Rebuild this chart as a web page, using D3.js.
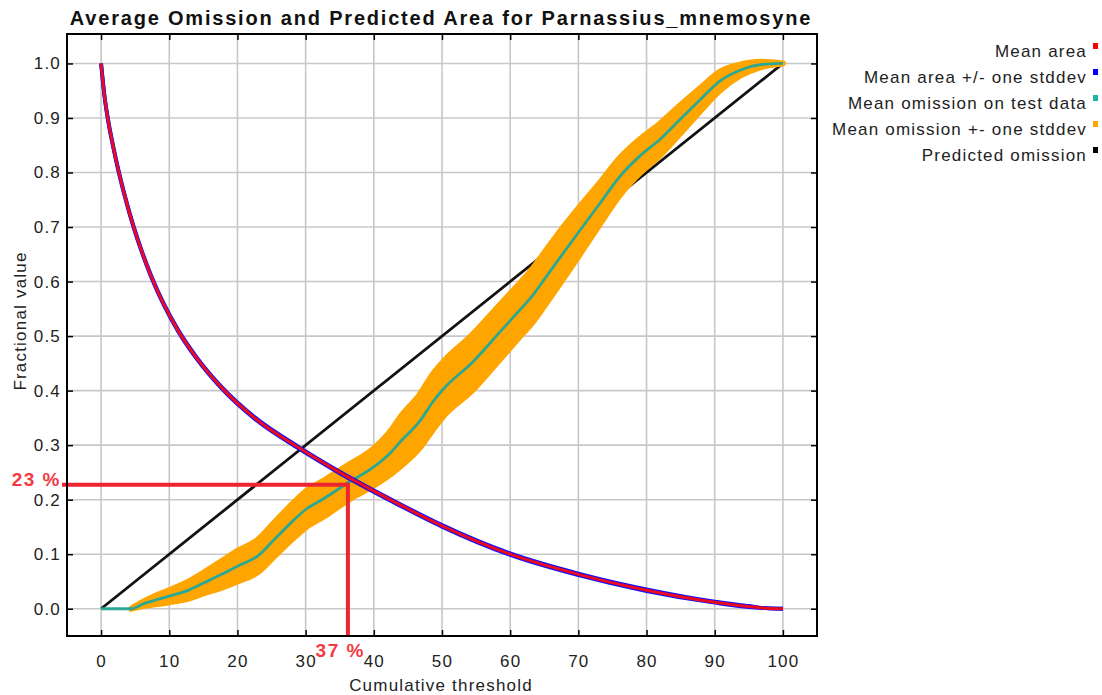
<!DOCTYPE html>
<html>
<head>
<meta charset="utf-8">
<script src="https://cdn.jsdelivr.net/npm/d3@7"></script>
<style>
body { margin: 0; background: #fff; }
text { font-family: "Liberation Sans", Arial, sans-serif; }
</style>
</head>
<body>
<div id="chart-area"></div>
<script>
const FIGURE = { WIDTH: 1102, HEIGHT: 695 };
const PLOT = { LEFT: 67, RIGHT: 817, TOP: 34, BOTTOM: 636 };

const chartTitle = "Average Omission and Predicted Area for Parnassius_mnemosyne";
const xLabel = "Cumulative threshold";
const yLabel = "Fractional value";
const xTicks = [0, 10, 20, 30, 40, 50, 60, 70, 80, 90, 100];
const yTicks = [0, 0.1, 0.2, 0.3, 0.4, 0.5, 0.6, 0.7, 0.8, 0.9, 1.0];

// mean predicted area (red) and its stddev (blue)
const areaThresholds = [0, 0.5, 1, 1.7, 2.5, 3.5, 4.7, 6, 7.4, 9.2, 11.3, 14, 17.7, 22.5, 28.9, 35, 42.4, 50, 60, 70, 80, 90, 95, 97.5, 100];
const areaMean =       [1.0, 0.94, 0.898, 0.852, 0.806, 0.756, 0.703, 0.654, 0.608, 0.558, 0.51, 0.46, 0.405, 0.35, 0.296, 0.25, 0.2, 0.152, 0.1, 0.063, 0.034, 0.012, 0.004, 0.001, 0];
const areaStd =        [0, 0.001, 0.0015, 0.0015, 0.0015, 0.0015, 0.0015, 0.0015, 0.0015, 0.0015, 0.0015, 0.0015, 0.0015, 0.0015, 0.0015, 0.0015, 0.0015, 0.0015, 0.0015, 0.0015, 0.0015, 0.001, 0.001, 0, 0];

// mean omission on test data (teal) and its stddev (orange)
const omissionThresholds = [0, 4.4, 6.2, 8, 10, 13, 15, 18, 20, 23, 25.4, 27.8, 30, 32.8, 36.2, 40, 42.6, 43.8, 46.8, 48.7, 50.2, 54.4, 58.6, 61.5, 63, 65, 66.9, 70, 73.2, 76.1, 79, 82, 84.9, 87.9, 90.8, 93.8, 96.7, 100];
const omissionMean =       [0, 0, 0.009, 0.016, 0.023, 0.035, 0.047, 0.065, 0.078, 0.097, 0.127, 0.157, 0.182, 0.203, 0.231, 0.26, 0.288, 0.305, 0.345, 0.38, 0.403, 0.451, 0.509, 0.549, 0.57, 0.604, 0.637, 0.69, 0.744, 0.793, 0.83, 0.861, 0.897, 0.934, 0.968, 0.988, 0.998, 1.0];
const omissionStd =        [0, 0, 0.004, 0.008, 0.011, 0.016, 0.019, 0.025, 0.028, 0.03, 0.031, 0.032, 0.033, 0.033, 0.032, 0.034, 0.04, 0.045, 0.049, 0.051, 0.05, 0.051, 0.05, 0.049, 0.049, 0.049, 0.048, 0.044, 0.038, 0.034, 0.031, 0.029, 0.026, 0.021, 0.017, 0.01, 0.005, 0];

// predicted omission (black)
const predictedThresholds = [0, 100];
const predictedOmission = [0, 1];

// marked threshold
const cutThreshold = 36.2;
const cutValue = 0.2275;
const cutXLabel = "37 %";
const cutYLabel = "23 %";

const legendNames = ["Mean area", "Mean area +/- one stddev", "Mean omission on test data", "Mean omission +- one stddev", "Predicted omission"];
const legendColors = ["#ff0000", "#0000ff", "#1fb2a8", "#ffa500", "#000000"];

let x = d3.scaleLinear().domain([-5, 105]).range([PLOT.LEFT, PLOT.RIGHT]);
let y = d3.scaleLinear().domain([-0.05, 1.054]).range([PLOT.BOTTOM, PLOT.TOP]);

let svg = d3.select("#chart-area")
    .append("svg")
        .attr("width", FIGURE.WIDTH)
        .attr("height", FIGURE.HEIGHT)
        .style("display", "block");

svg.append("rect")
    .attr("width", FIGURE.WIDTH)
    .attr("height", FIGURE.HEIGHT)
    .attr("fill", "#fff");

// grid
let grid = svg.append("g").attr("stroke", "#c8c8c8").attr("stroke-width", 1.6);
grid.selectAll(".gx").data(xTicks).enter().append("line")
    .attr("x1", d => x(d)).attr("x2", d => x(d))
    .attr("y1", PLOT.TOP).attr("y2", PLOT.BOTTOM);
grid.selectAll(".gy").data(yTicks).enter().append("line")
    .attr("x1", PLOT.LEFT).attr("x2", PLOT.RIGHT)
    .attr("y1", d => y(d)).attr("y2", d => y(d));

// predicted omission
const predicted = predictedThresholds.map((t, i) => ({ t: t, v: predictedOmission[i] }));
svg.append("path")
    .datum(predicted)
    .attr("d", d3.line().x(d => x(d.t)).y(d => y(d.v)))
    .attr("fill", "none")
    .attr("stroke", "#111")
    .attr("stroke-width", 2.8);

// omission band + mean
const omission = omissionThresholds.map((t, i) => ({ t: t, v: omissionMean[i], sd: omissionStd[i] }));
svg.append("path")
    .datum(omission)
    .attr("d", d3.area()
        .defined(d => d.t >= 4.4)
        .curve(d3.curveMonotoneX)
        .x(d => x(d.t)).y0(d => y(d.v - d.sd)).y1(d => y(d.v + d.sd)))
    .attr("fill", "#ffa500")
    .attr("stroke", "#ffa500")
    .attr("stroke-width", 6)
    .attr("stroke-linejoin", "round");
svg.append("path")
    .datum(omission)
    .attr("d", d3.line().curve(d3.curveMonotoneX).x(d => x(d.t)).y(d => y(d.v)))
    .attr("fill", "none")
    .attr("stroke", "#2aa894")
    .attr("stroke-width", 2.8);

// mean area with stddev
const area = areaThresholds.map((t, i) => ({ t: t, v: areaMean[i], sd: areaStd[i] }));
const areaLine = d3.line().curve(d3.curveMonotoneX).x(d => x(d.t));
[1, -1].forEach(sign => {
    svg.append("path")
        .datum(area)
        .attr("d", areaLine.y(d => y(d.v + sign * d.sd)))
        .attr("fill", "none")
        .attr("stroke", "#1010ff")
        .attr("stroke-width", 3.8);
});
svg.append("path")
    .datum(area)
    .attr("d", areaLine.y(d => y(d.v)))
    .attr("fill", "none")
    .attr("stroke", "#ee0a1e")
    .attr("stroke-width", 3);

// threshold marker
svg.append("line")
    .attr("x1", PLOT.LEFT - 5).attr("x2", x(cutThreshold))
    .attr("y1", y(cutValue)).attr("y2", y(cutValue))
    .attr("stroke", "#ee2430").attr("stroke-width", 4);
svg.append("line")
    .attr("x1", x(cutThreshold)).attr("x2", x(cutThreshold))
    .attr("y1", y(cutValue) - 2).attr("y2", PLOT.BOTTOM)
    .attr("stroke", "#ee2430").attr("stroke-width", 4);

// axes, ticks point inward on all four sides
function styleAxis(g) {
    g.select(".domain").remove();
    g.selectAll(".tick line").attr("stroke", "#000").attr("stroke-width", 1.5);
    g.selectAll(".tick text")
        .attr("fill", "#222")
        .style("font-size", "17px")
        .style("letter-spacing", "1.2px")
        .style("font-family", "'Liberation Sans', Arial, sans-serif");
}
svg.append("g")
    .attr("transform", `translate(${PLOT.LEFT}, 0)`)
    .call(d3.axisLeft(y).tickValues(yTicks).tickFormat(d3.format(".1f")).tickSizeInner(-6).tickSizeOuter(0).tickPadding(6))
    .call(styleAxis);
svg.append("g")
    .attr("transform", `translate(0, ${PLOT.BOTTOM})`)
    .call(d3.axisBottom(x).tickValues(xTicks).tickFormat(d3.format("d")).tickSizeInner(-6).tickSizeOuter(0).tickPadding(19))
    .call(styleAxis);
svg.append("g")
    .attr("transform", `translate(${PLOT.RIGHT}, 0)`)
    .call(d3.axisRight(y).tickValues(yTicks).tickFormat(() => "").tickSizeInner(-6).tickSizeOuter(0))
    .call(styleAxis);
svg.append("g")
    .attr("transform", `translate(0, ${PLOT.TOP})`)
    .call(d3.axisTop(x).tickValues(xTicks).tickFormat(() => "").tickSizeInner(-6).tickSizeOuter(0))
    .call(styleAxis);

svg.append("rect")
    .attr("x", PLOT.LEFT).attr("y", PLOT.TOP)
    .attr("width", PLOT.RIGHT - PLOT.LEFT).attr("height", PLOT.BOTTOM - PLOT.TOP)
    .attr("fill", "none").attr("stroke", "#000").attr("stroke-width", 2);

// threshold labels
svg.append("text")
    .attr("x", PLOT.LEFT - 6).attr("y", y(cutValue) + 1)
    .attr("text-anchor", "end")
    .attr("fill", "#f33a45")
    .style("font-size", "19px").style("font-weight", "bold").style("letter-spacing", "1.5px")
    .text(cutYLabel);
svg.append("text")
    .attr("x", x(cutThreshold) + 17).attr("y", 657)
    .attr("text-anchor", "end")
    .attr("fill", "#f33a45")
    .style("font-size", "19px").style("font-weight", "bold").style("letter-spacing", "1.5px")
    .text(cutXLabel);

// titles
svg.append("text")
    .attr("x", 441).attr("y", 25)
    .attr("text-anchor", "middle")
    .attr("fill", "#111")
    .style("font-size", "20px").style("font-weight", "bold").style("letter-spacing", "1.8px")
    .text(chartTitle);
svg.append("text")
    .attr("x", 441).attr("y", 691)
    .attr("text-anchor", "middle")
    .attr("fill", "#222")
    .style("font-size", "17px").style("letter-spacing", "1.2px")
    .text(xLabel);
svg.append("text")
    .attr("transform", "translate(26, 321) rotate(-90)")
    .attr("text-anchor", "middle")
    .attr("fill", "#222")
    .style("font-size", "17px").style("letter-spacing", "1.2px")
    .text(yLabel);

// legend
let legend = svg.append("g");
legend.selectAll("text")
    .data(legendNames)
    .enter()
    .append("text")
        .attr("x", 1087)
        .attr("y", (d, i) => 57 + i * 26)
        .attr("text-anchor", "end")
        .attr("fill", "#222")
        .style("font-size", "17px").style("letter-spacing", "1.2px")
        .text(d => d);
legend.selectAll("rect")
    .data(legendColors)
    .enter()
    .append("rect")
        .attr("x", 1093)
        .attr("y", (d, i) => 43 + i * 26)
        .attr("width", 5)
        .attr("height", 6)
        .attr("fill", d => d);
</script>
</body>
</html>
